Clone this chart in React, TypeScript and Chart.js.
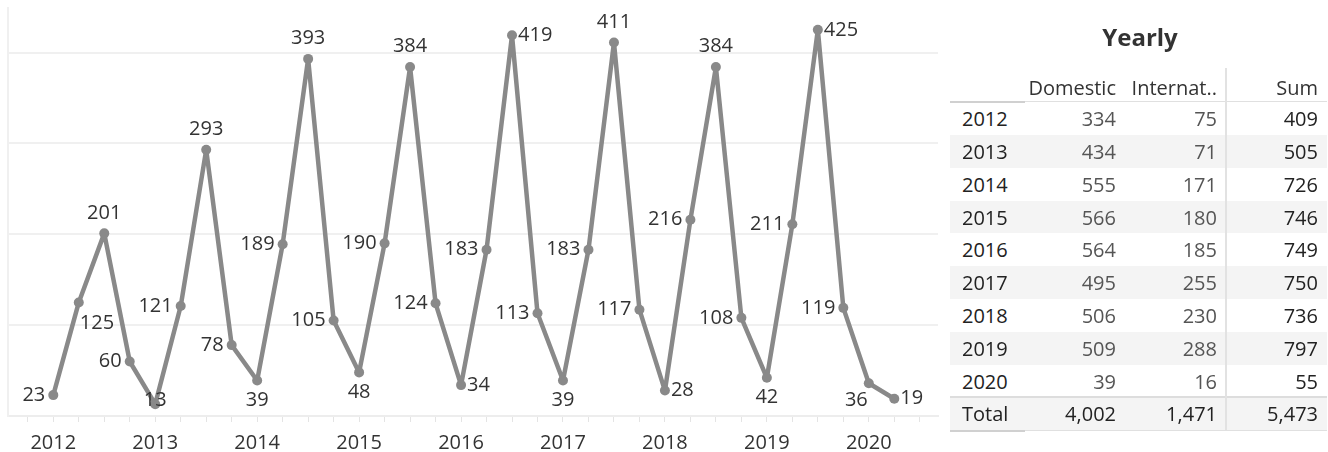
import React, { useEffect, useRef } from "react";
import { Chart, registerables } from "chart.js";

Chart.register(...registerables);

// ---- Data ----
const axisYears = ["2012", "2013", "2014", "2015", "2016", "2017", "2018", "2019", "2020"];
const quarterValues = [
  23, 125, 201, 60,
  13, 121, 293, 78,
  39, 189, 393, 105,
  48, 190, 384, 124,
  34, 183, 419, 113,
  39, 183, 411, 117,
  28, 216, 384, 108,
  42, 211, 425, 119,
  36, 19,
];
const labelPlacement = [
  "left", "belowright", "above", "left",
  "below", "left", "above", "left",
  "below", "left", "above", "left",
  "below", "left", "above", "left",
  "right", "left", "right", "left",
  "below", "left", "above", "left",
  "right", "left", "above", "left",
  "below", "left", "right", "left",
  "belowleft", "right",
];

const tableTitle = "Yearly";
const tableColumns = ["Domestic", "Internat..", "Sum"];
const tableYears = ["2012", "2013", "2014", "2015", "2016", "2017", "2018", "2019", "2020"];
const domestic = [334, 434, 555, 566, 564, 495, 506, 509, 39];
const international = [75, 71, 171, 180, 185, 255, 230, 288, 16];
const yearSum = [409, 505, 726, 746, 749, 750, 736, 797, 55];
const totalLabel = "Total";
const totals = ["4,002", "1,471", "5,473"];

const FONT = '"Open Sans", "Noto Sans", sans-serif';
const LINE_COLOR = "#898989";
const FS = 20;

const pointLabelsPlugin = {
  id: "pointLabels",
  afterDatasetsDraw(chart: any) {
    const ctx = chart.ctx;
    const meta = chart.getDatasetMeta(0);
    const area = chart.chartArea;
    ctx.save();
    ctx.font = `${FS}px ${FONT}`;
    ctx.fillStyle = "#333333";
    ctx.textBaseline = "middle";
    meta.data.forEach((pt: any, i: number) => {
      const x = pt.x;
      const y = pt.y;
      const p = labelPlacement[i];
      let tx = x;
      let ty = y;
      let align: CanvasTextAlign = "center";
      const lowMax = area.bottom - 16;
      if (p === "left") {
        align = "right";
        tx = x - 8;
      } else if (p === "right") {
        align = "left";
        tx = x + 6;
      } else if (p === "above") {
        ty = y - 20.5;
      } else if (p === "below") {
        ty = Math.min(y + 19.5, lowMax);
      } else if (p === "belowright") {
        align = "left";
        tx = x + 1;
        ty = Math.min(y + 20.5, lowMax);
      } else if (p === "belowleft") {
        align = "right";
        tx = x - 1;
        ty = Math.min(y + 18, lowMax);
      }
      ctx.textAlign = align;
      ctx.fillText(String(quarterValues[i]), tx, ty);
    });
    ctx.restore();
  },
};

function LineChart() {
  const ref = useRef<HTMLCanvasElement>(null);
  useEffect(() => {
    if (!ref.current) return;
    const chart = new Chart(ref.current, {
      type: "line",
      data: {
        datasets: [
          {
            data: quarterValues.map((v, i) => ({ x: i, y: v })),
            borderColor: LINE_COLOR,
            backgroundColor: LINE_COLOR,
            borderWidth: 4.5,
            borderJoinStyle: "round",
            borderCapStyle: "round",
            pointRadius: 5,
            pointBackgroundColor: LINE_COLOR,
            pointBorderWidth: 0,
            tension: 0,
          },
        ],
      },
      options: {
        animation: false,
        responsive: false,
        layout: { padding: { left: 8, right: 7, top: 8, bottom: 0 } },
        plugins: { legend: { display: false }, tooltip: { enabled: false } },
        scales: {
          x: {
            type: "linear",
            min: -1.777,
            max: 34.715,
            afterFit: (s: any) => {
              s.height = 36;
            },
            grid: {
              drawOnChartArea: false,
              drawTicks: true,
              tickLength: 6,
              color: "#e4e4e4",
              lineWidth: 1,
            },
            border: { display: true, color: "#ededed", width: 2 },
            ticks: {
              stepSize: 1,
              includeBounds: false,
              autoSkip: false,
              maxRotation: 0,
              padding: 9,
              color: "#333333",
              font: { family: FONT, size: FS },
              callback: (value: any) => {
                const v = Number(value);
                if (v >= 0 && v % 4 === 0 && v / 4 < axisYears.length) return axisYears[v / 4];
                return "";
              },
            },
          },
          y: {
            min: 0,
            max: 449,
            afterFit: (s: any) => {
              s.width = 0;
            },
            grid: { color: "#f0f0f0", lineWidth: 2, drawTicks: false },
            border: { display: true, color: "#f0f0f0", width: 2 },
            ticks: { display: false, stepSize: 100, includeBounds: false },
          },
        },
      },
      plugins: [pointLabelsPlugin],
    });
    return () => chart.destroy();
  }, []);
  return (
    <canvas
      ref={ref}
      width={945}
      height={452}
      style={{ position: "absolute", left: 0, top: 0, width: 945, height: 452 }}
    />
  );
}

const ROW_TOP = 102.2;
const ROW_H = 32.8;
const COL_RIGHT = [1116, 1217, 1318];

function Cell(props: { left?: number; right?: number; top: number; h: number; text: string; color: string; weight?: number }) {
  const style: any = {
    position: "absolute",
    top: props.top + 1,
    height: props.h,
    lineHeight: `${props.h}px`,
    fontFamily: FONT,
    fontSize: FS,
    color: props.color,
    fontWeight: props.weight || 400,
    whiteSpace: "nowrap",
  };
  if (props.right !== undefined) {
    style.left = props.right - 200;
    style.width = 200;
    style.textAlign = "right";
  } else {
    style.left = props.left;
  }
  return <div style={style}>{props.text}</div>;
}

function YearlyTable() {
  const rows = tableYears.map((yr, i) => {
    const top = ROW_TOP + i * ROW_H;
    return (
      <React.Fragment key={yr}>
        {i % 2 === 1 && (
          <div style={{ position: "absolute", left: 950, width: 377, top, height: ROW_H, background: "#f4f4f4" }} />
        )}
        <Cell left={962} top={top} h={ROW_H} text={yr} color="#222222" weight={500} />
        <Cell right={COL_RIGHT[0]} top={top} h={ROW_H} text={String(domestic[i])} color="#555555" />
        <Cell right={COL_RIGHT[1]} top={top} h={ROW_H} text={String(international[i])} color="#555555" />
        <Cell right={COL_RIGHT[2]} top={top} h={ROW_H} text={String(yearSum[i])} color="#222222" />
      </React.Fragment>
    );
  });
  const totalTop = ROW_TOP + tableYears.length * ROW_H;
  return (
    <>
      <div
        style={{
          position: "absolute",
          left: 940,
          width: 400,
          top: 21,
          height: 32,
          lineHeight: "32px",
          textAlign: "center",
          fontFamily: FONT,
          fontWeight: 700,
          fontSize: 24,
          color: "#333333",
        }}
      >
        {tableTitle}
      </div>
      {tableColumns.map((c, j) => (
        <Cell key={c} right={COL_RIGHT[j]} top={71} h={31} text={c} color="#333333" />
      ))}
      {rows}
      <div style={{ position: "absolute", left: 950, width: 377, top: totalTop, height: ROW_H, background: "#f4f4f4" }} />
      <Cell left={962} top={totalTop} h={ROW_H} text={totalLabel} color="#222222" weight={500} />
      {totals.map((t, j) => (
        <Cell key={j} right={COL_RIGHT[j]} top={totalTop} h={ROW_H} text={t} color="#222222" />
      ))}
      {/* header underline */}
      <div style={{ position: "absolute", left: 1025, width: 302, top: 101, height: 1, background: "#e0e0e0" }} />
      <div style={{ position: "absolute", left: 950, width: 75, top: 100.5, height: 2, background: "#d0d0d0" }} />
      {/* total top border */}
      <div style={{ position: "absolute", left: 950, width: 377, top: totalTop - 1, height: 2, background: "#dddddd" }} />
      {/* bottom border */}
      <div style={{ position: "absolute", left: 1025, width: 302, top: totalTop + ROW_H, height: 1, background: "#e0e0e0" }} />
      <div style={{ position: "absolute", left: 950, width: 75, top: totalTop + ROW_H - 0.5, height: 2, background: "#d0d0d0" }} />
      {/* vertical divider */}
      <div style={{ position: "absolute", left: 1225, width: 2, top: 68, height: totalTop + ROW_H - 68, background: "#e2e2e2" }} />
    </>
  );
}

export default function App() {
  return (
    <div style={{ position: "absolute", left: 0, top: 0, width: 1328, height: 452, background: "#ffffff", overflow: "hidden" }}>
      <LineChart />
      <YearlyTable />
    </div>
  );
}
